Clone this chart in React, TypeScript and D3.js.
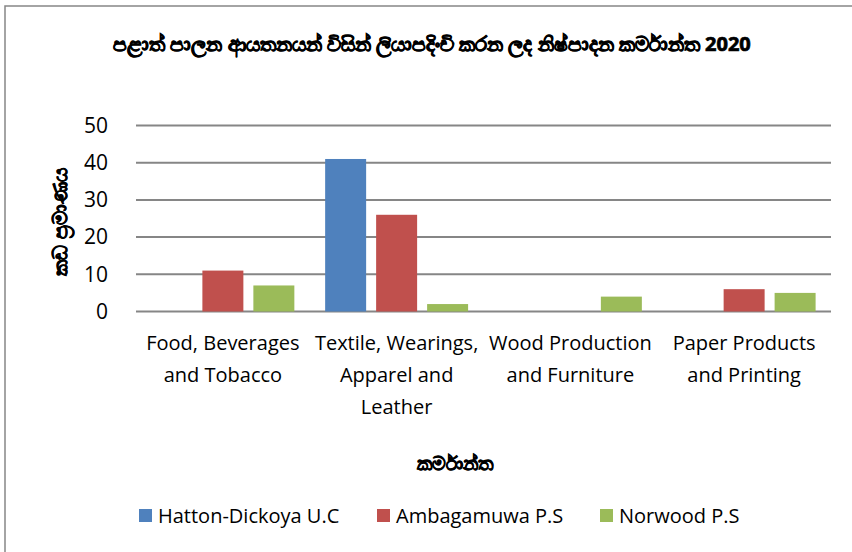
import React from 'react';
import * as d3 from 'd3';

const title = 'පළාත් පාලන ආයතනයන් විසින් ලියාපදිංචි කරන ලද නිෂ්පාදන කර්මාන්ත 2020';
const yTitle = 'කඩ ප්‍රමාණය';
const xTitle = 'කර්මාන්ත';

const categories = [
  ['Food, Beverages', 'and Tobacco'],
  ['Textile, Wearings,', 'Apparel and', 'Leather'],
  ['Wood Production', 'and Furniture'],
  ['Paper Products', 'and Printing'],
];
const seriesNames = ['Hatton-Dickoya U.C', 'Ambagamuwa P.S', 'Norwood P.S'];
const seriesColors = ['#4f81bd', '#c0504d', '#9bbb59'];
const hatton = [0, 41, 0, 0];
const ambagamuwa = [11, 26, 0, 6];
const norwood = [7, 2, 4, 5];
const yTicks = [0, 10, 20, 30, 40, 50];

const series = [hatton, ambagamuwa, norwood];

const W = 852;
const H = 552;
const left = 136;
const right = 831;
const top = 125.5;
const bottom = 311.5;

const font = '"Open Sans", sans-serif';
const boldFont = "'Noto Sans', sans-serif";

export default function App() {
  const catIdx = categories.map((_, i) => i);
  const x = d3.scaleBand<number>().domain(catIdx).range([left, right]).paddingInner(0).paddingOuter(0);
  const inner = d3.scaleBand<number>().domain([0, 1, 2]).range([15.4, x.bandwidth() - 15.4]).paddingInner(0.196).paddingOuter(0);
  const y = d3.scaleLinear().domain([0, 50]).range([bottom, top]);

  const legendX = [139, 377, 600];

  return (
    <svg width={W} height={H} style={{ position: 'absolute', left: 0, top: 0 }}>
      <rect x={0} y={0} width={W} height={H} fill="#fff" />
      <rect x={5} y={6} width={W + 10} height={H + 10} fill="none" stroke="#868686" strokeWidth={1.5} />
      <text x={432} y={51} textAnchor="middle" fontFamily={boldFont} fontWeight="bold" fontSize={20} fill="#000" stroke="#000" strokeWidth={0.7}>
        {title}
      </text>
      {yTicks.map(t => (
        <g key={t}>
          <line x1={left} x2={right} y1={y(t)} y2={y(t)} stroke="#868686" strokeWidth={2} />
          <text x={108} y={y(t)} dy="0.35em" textAnchor="end" fontFamily={font} fontSize={21} fill="#000">
            {t}
          </text>
        </g>
      ))}
      {series.map((vals, s) =>
        vals.map((v, i) =>
          v > 0 ? (
            <rect
              key={`${s}-${i}`}
              x={(x(i) ?? 0) + (inner(s) ?? 0)}
              y={y(v)}
              width={inner.bandwidth()}
              height={y(0) - y(v)}
              fill={seriesColors[s]}
            />
          ) : null
        )
      )}
      {categories.map((lines, i) => (
        <text key={i} textAnchor="middle" fontFamily={font} fontSize={20} fill="#000">
          {lines.map((ln, j) => (
            <tspan key={j} x={(x(i) ?? 0) + x.bandwidth() / 2} y={350 + j * 32}>
              {ln}
            </tspan>
          ))}
        </text>
      ))}
      <text
        transform={`translate(67,${222}) rotate(-90)`}
        textAnchor="middle"
        fontFamily={boldFont}
        fontWeight="bold"
        fontSize={20}
        fill="#000"
        stroke="#000"
        strokeWidth={0.6}
      >
        {yTitle}
      </text>
      <text x={455} y={470} textAnchor="middle" fontFamily={boldFont} fontWeight="bold" fontSize={19} fill="#000" stroke="#000" strokeWidth={0.6}>
        {xTitle}
      </text>
      {seriesNames.map((n, s) => (
        <g key={n}>
          <rect x={legendX[s]} y={509} width={13} height={13} fill={seriesColors[s]} />
          <text x={legendX[s] + 19} y={515.5} dy="0.35em" fontFamily={font} fontSize={20} fill="#000">
            {n}
          </text>
        </g>
      ))}
    </svg>
  );
}
